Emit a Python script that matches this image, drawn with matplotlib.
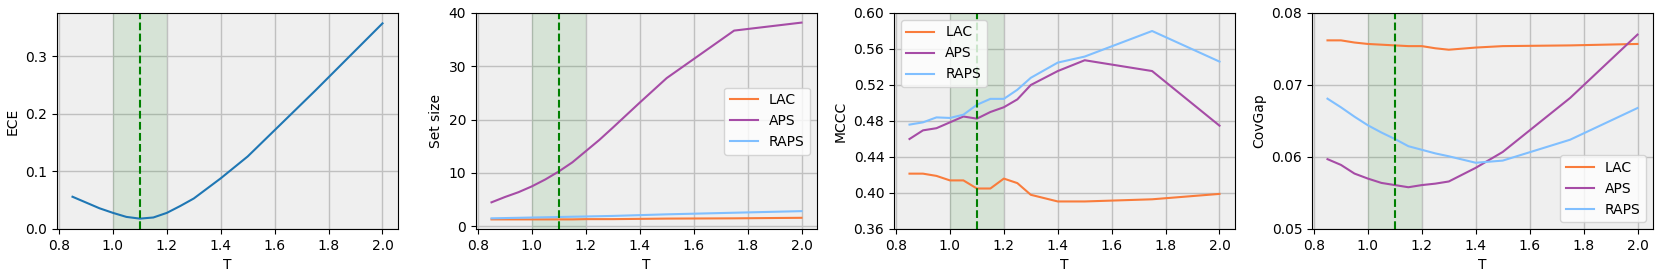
import matplotlib
matplotlib.use("Agg")
import matplotlib.pyplot as plt

# 温度パラメータ
T = [0.85, 0.9, 0.95, 1.0, 1.05, 1.1, 1.15, 1.2, 1.25, 1.3, 1.4, 1.5, 1.75, 2.0]

ece = [0.056, 0.046, 0.036, 0.028, 0.021, 0.018, 0.020, 0.028, 0.040, 0.053,
       0.088, 0.126, 0.240, 0.357]

setsize_lac = [1.3, 1.3, 1.3, 1.3, 1.3, 1.3, 1.3, 1.35, 1.35, 1.35, 1.4, 1.45, 1.5, 1.6]
setsize_aps = [4.5, 5.5, 6.4, 7.5, 8.8, 10.3, 12.0, 14.1, 16.2, 18.5, 23.2, 27.8, 36.7, 38.2]
setsize_raps = [1.5, 1.55, 1.6, 1.65, 1.7, 1.75, 1.8, 1.85, 1.9, 1.95, 2.1, 2.25, 2.55, 2.85]

mccc_lac = [0.4215, 0.4215, 0.419, 0.414, 0.414, 0.405, 0.405, 0.416, 0.411, 0.398,
            0.3906, 0.3906, 0.393, 0.399]
mccc_aps = [0.460, 0.4696, 0.472, 0.4785, 0.485, 0.4826, 0.490, 0.4953, 0.504, 0.520,
            0.5355, 0.5475, 0.5355, 0.4748]
mccc_raps = [0.476, 0.4785, 0.484, 0.4834, 0.487, 0.498, 0.5046, 0.5046, 0.5147, 0.528,
             0.5449, 0.5516, 0.580, 0.546]

covgap_lac = [0.0762, 0.0762, 0.0759, 0.0757, 0.0756, 0.0755, 0.0754, 0.0754, 0.0751,
              0.0749, 0.0752, 0.0754, 0.0755, 0.0757]
covgap_aps = [0.0597, 0.0589, 0.0577, 0.0570, 0.0564, 0.0561, 0.0558, 0.0561, 0.0563,
              0.0566, 0.0585, 0.0607, 0.0682, 0.0770]
covgap_raps = [0.0681, 0.0669, 0.0656, 0.0644, 0.0634, 0.0625, 0.0615, 0.0610, 0.0605,
               0.0601, 0.0592, 0.0595, 0.0624, 0.0668]

T_BEST = 1.1
SPAN = (1.0, 1.2)

COLOR_LAC = "#f97c3c"
COLOR_APS = "#a64ca6"
COLOR_RAPS = "#80bfff"
BG = "#efefef"

fig = plt.figure(figsize=(16.61, 2.78), dpi=100)
lefts = [57, 476, 894, 1312]
axes = [fig.add_axes([l / 1661, 1 - 229 / 278, 341 / 1661, 216 / 278]) for l in lefts]


def decorate(ax, ylabel):
    ax.set_facecolor(BG)
    ax.grid(True, color="#c0c0c0", linewidth=1.0)
    ax.set_axisbelow(True)
    ax.axvspan(SPAN[0], SPAN[1], color="green", alpha=0.1, linewidth=0)
    ax.axvline(T_BEST, color="green", linestyle="--", linewidth=1.5)
    ax.set_xlabel("T")
    ax.set_ylabel(ylabel)
    ax.set_xticks([0.8, 1.0, 1.2, 1.4, 1.6, 1.8, 2.0])


# ECE
ax = axes[0]
ax.plot(T, ece, color="#1f77b4")
ax.set_ylim(0, 0.375)
ax.set_yticks([0.0, 0.1, 0.2, 0.3])
decorate(ax, "ECE")

# Set size
ax = axes[1]
ax.plot(T, setsize_lac, color=COLOR_LAC, label="LAC")
ax.plot(T, setsize_aps, color=COLOR_APS, label="APS")
ax.plot(T, setsize_raps, color=COLOR_RAPS, label="RAPS")
ax.set_ylim(-0.5, 40)
ax.set_yticks([0, 10, 20, 30, 40])
decorate(ax, "Set size")
ax.legend(loc="center right")

# MCCC
ax = axes[2]
ax.plot(T, mccc_lac, color=COLOR_LAC, label="LAC")
ax.plot(T, mccc_aps, color=COLOR_APS, label="APS")
ax.plot(T, mccc_raps, color=COLOR_RAPS, label="RAPS")
ax.set_ylim(0.36, 0.60)
ax.set_yticks([0.36, 0.40, 0.44, 0.48, 0.52, 0.56, 0.60])
decorate(ax, "MCCC")
ax.legend(loc="upper left")

# CovGap
ax = axes[3]
ax.plot(T, covgap_lac, color=COLOR_LAC, label="LAC")
ax.plot(T, covgap_aps, color=COLOR_APS, label="APS")
ax.plot(T, covgap_raps, color=COLOR_RAPS, label="RAPS")
ax.set_ylim(0.05, 0.08)
ax.set_yticks([0.05, 0.06, 0.07, 0.08])
decorate(ax, "CovGap")
ax.legend(loc="lower right")

fig.savefig("out.png", dpi=100)
